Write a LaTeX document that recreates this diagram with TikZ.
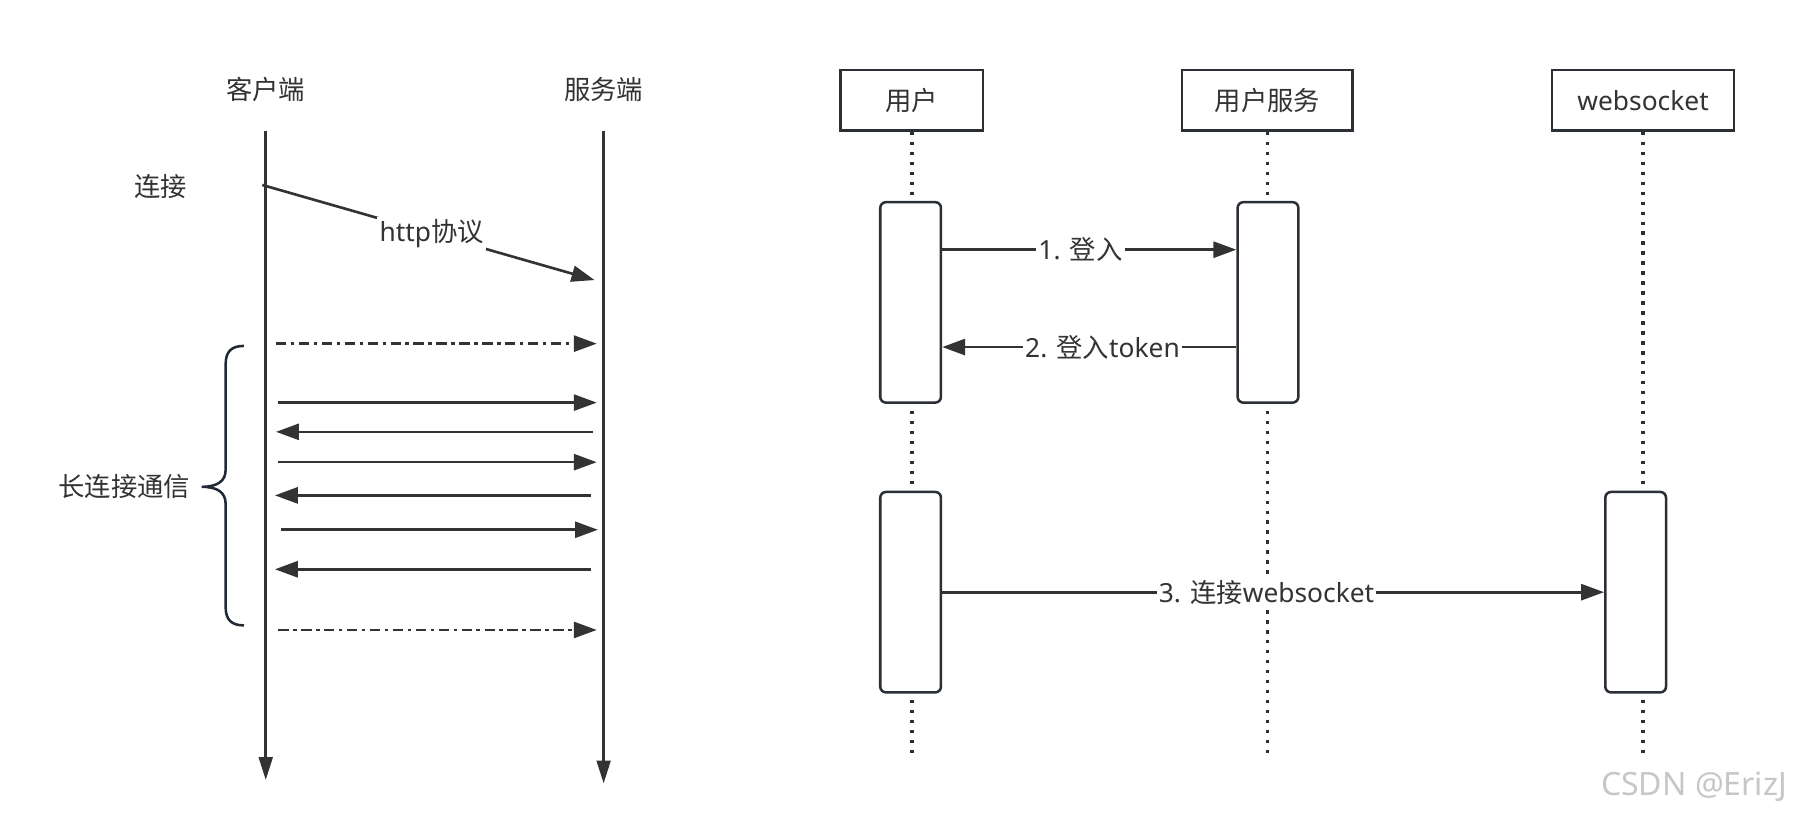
\documentclass[tikz,border=0pt]{standalone}
\usepackage{fontspec}
\setmainfont{Noto Sans}
\newfontfamily\cjk{Noto Sans CJK SC}
\usetikzlibrary{arrows.meta}
\definecolor{ink}{HTML}{333333}
\definecolor{boxc}{HTML}{2B3036}
\definecolor{bracec}{HTML}{1F2A36}
\begin{document}
\begin{tikzpicture}[x=1pt,y=-1pt,
  lbl/.style={font=\fontsize{23}{26}\selectfont, text=ink, inner sep=1pt},
  onlbl/.style={lbl, fill=white, inner sep=2pt},
  life/.style={draw=ink, line width=2.4pt, -{Triangle[length=20pt,width=12pt]}},
  msg/.style={draw=ink, line width=2.3pt, -{Triangle[length=20pt,width=14pt]}},
  dashdot/.style={dash pattern=on 9pt off 4pt on 3pt off 4pt},
  head/.style={draw=boxc, line width=2.2pt, minimum height=53pt, inner sep=0pt, fill=white, font=\fontsize{23}{26}\selectfont, text=ink},
  act/.style={draw=boxc, line width=2.2pt, rounded corners=5pt, fill=white, minimum width=53pt, minimum height=175pt, inner sep=0pt},
  dots/.style={draw=boxc, line width=3.2pt, dash pattern=on 3pt off 5.7pt},
]
\fill[white] (0,0) rectangle (1568,717);
\useasboundingbox (0,0) rectangle (1568,717);

% ---------- left diagram ----------
\node[lbl] (c) at (232,78) {\cjk 客户端};
\node[lbl] (s) at (527,78) {\cjk 服务端};
\coordinate (ctop) at (232,114);
\coordinate (cbot) at (232,681);
\coordinate (stop) at (527,114);
\coordinate (sbot) at (527,684);
\draw[life] (ctop) -- (cbot);
\draw[life] (stop) -- (sbot);

\node[lbl] (conn) at (140,163) {\cjk 连接};
\coordinate (h1) at (229,161.5);
\coordinate (h2) at (519,244.5);
\draw[msg] (h1) -- (h2) node[onlbl, pos=0.51] (hl) {http{\cjk 协议}};

% dash-dot arrows
\coordinate (d1a) at (241,300);
\coordinate (d1b) at (521,300);
\draw[msg, dashdot] (d1a) -- (d1b);
\coordinate (d2a) at (243,550);
\coordinate (d2b) at (521,550);
\draw[msg, dashdot] (d2a) -- (d2b);

% solid exchange arrows
\coordinate (r1a) at (243,351.5); \coordinate (r1b) at (521,351.5);
\coordinate (l1a) at (518,377);   \coordinate (l1b) at (241,377);
\coordinate (r2a) at (243,403.5); \coordinate (r2b) at (521,403.5);
\coordinate (l2a) at (516,432.5); \coordinate (l2b) at (240,432.5);
\coordinate (r3a) at (245,462.5); \coordinate (r3b) at (522,462.5);
\coordinate (l3a) at (516,497);   \coordinate (l3b) at (240,497);
\draw[msg] (r1a) -- (r1b);
\draw[msg] (l1a) -- (l1b);
\draw[msg] (r2a) -- (r2b);
\draw[msg] (l2a) -- (l2b);
\draw[msg] (r3a) -- (r3b);
\draw[msg] (l3a) -- (l3b);

% brace
\draw[bracec, line width=2.2pt]
  (213,302) .. controls (202,302) and (197,307) .. (197,318)
  -- (197,410) .. controls (197,420) and (190,425) .. (176,425)
  .. controls (190,425) and (197,430) .. (197,440)
  -- (197,530) .. controls (197,541) and (202,546) .. (213,546);
\node[lbl] (long) at (108.5,425) {\cjk 长连接通信};

% ---------- right diagram ----------
\node[head, minimum width=124pt] (u) at (796,87.5) {\cjk 用户};
\node[head, minimum width=149pt] (us) at (1106.5,87.5) {\cjk 用户服务};
\node[head, minimum width=159pt] (ws) at (1434.5,87.5) {websocket};
\coordinate (bot) at (0,658);
\draw[dots] (u.south) -- (u.south |- bot);
\draw[dots] (us.south) -- (us.south |- bot);
\draw[dots] (ws.south) -- (ws.south |- bot);

\node[act] (a1) at (795,264) {};
\node[act] (a2) at (1107,264) {};
\node[act] (a3) at (795,517) {};
\node[act] (a4) at (1428,517) {};

\coordinate (y1) at (0,218);
\coordinate (y2) at (0,303);
\coordinate (y3) at (0,517);
\draw[msg] (a1.east |- y1) -- (a2.west |- y1) node[onlbl, pos=0.47] (m1) {1. {\cjk 登入}};
\draw[msg] (a2.west |- y2) -- (a1.east |- y2) node[onlbl, pos=0.455] (m2) {2. {\cjk 登入}token};
\draw[msg] (a3.east |- y3) -- (a4.west |- y3) node[onlbl, pos=0.49] (m3) {3. {\cjk 连接}websocket};

% watermark
\node[font=\fontsize{28}{30}\selectfont, text=black!22] (wm) at (1479,687) {CSDN @ErizJ};
\end{tikzpicture}
\end{document}
